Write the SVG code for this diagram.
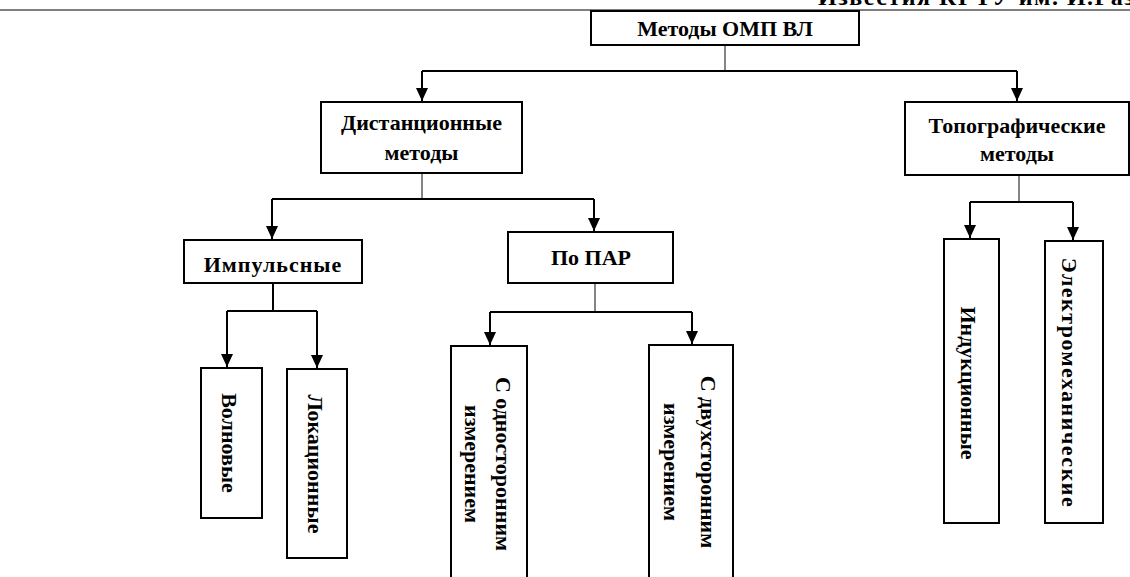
<svg xmlns="http://www.w3.org/2000/svg" width="1130" height="577" viewBox="0 0 1130 577">
<style>
.box{fill:#fff;stroke:#000;stroke-width:2}
.t{font-family:"Liberation Serif","Times New Roman",serif;font-weight:bold;font-size:22px;fill:#000;text-anchor:middle}
.c{fill:none;stroke:#000;stroke-width:2}
.s{fill:none;stroke:#333;stroke-width:1.2}
</style>
<defs>
<marker id="ah" markerUnits="userSpaceOnUse" markerWidth="12" markerHeight="14" refX="6" refY="13" orient="0" viewBox="0 0 12 14">
<path d="M0,0 L12,0 L6,13 Z" fill="#000"/>
</marker>
</defs>
<rect width="1130" height="577" fill="#fff"/>
<g id="header">
<line x1="0" y1="10" x2="1130" y2="10" stroke="#000" stroke-width="1.2"/>
<text x="818" y="5" style="font-family:'Liberation Serif',serif;font-weight:bold;font-size:24px;letter-spacing:1.5px">Известия КГТУ им. И.Раззакова</text>
</g>
<g id="connectors">
<path class="s" d="M725,45 V71"/>
<path class="c" d="M422,71 H1017"/>
<path class="c" d="M422,71 V101" marker-end="url(#ah)"/>
<path class="c" d="M1017,71 V101" marker-end="url(#ah)"/>
<path class="s" d="M422,173 V199"/>
<path class="c" d="M272,199 H594"/>
<path class="c" d="M272,199 V239" marker-end="url(#ah)"/>
<path class="c" d="M594,199 V231" marker-end="url(#ah)"/>
<path class="c" d="M273,283 V311"/>
<path class="c" d="M227,311 H317"/>
<path class="c" d="M227,311 V367" marker-end="url(#ah)"/>
<path class="c" d="M317,311 V368" marker-end="url(#ah)"/>
<path class="s" d="M595,283 V312"/>
<path class="c" d="M490,312 H692"/>
<path class="c" d="M490,312 V345" marker-end="url(#ah)"/>
<path class="c" d="M692,312 V344" marker-end="url(#ah)"/>
<path class="s" d="M1019,175 V202"/>
<path class="c" d="M970,202 H1073"/>
<path class="c" d="M970,202 V238" marker-end="url(#ah)"/>
<path class="c" d="M1073,202 V240" marker-end="url(#ah)"/>
</g>
<g id="root">
<rect class="box" x="591" y="11" width="268" height="34"/>
<text class="t" x="725" y="36">Методы ОМП ВЛ</text>
</g>
<g id="distance">
<rect class="box" x="321" y="102" width="201" height="71"/>
<text class="t" x="421.5" y="130">Дистанционные</text>
<text class="t" x="421.5" y="160">методы</text>
</g>
<g id="topo">
<rect class="box" x="905" y="102" width="224" height="73"/>
<text class="t" x="1017" y="133">Топографические</text>
<text class="t" x="1017" y="161">методы</text>
</g>
<g id="impulse">
<rect class="box" x="184" y="240" width="178" height="43"/>
<text class="t" x="273" y="272" letter-spacing="1">Импульсные</text>
</g>
<g id="par">
<rect class="box" x="508" y="232" width="165" height="51"/>
<text class="t" x="591" y="265">По ПАР</text>
</g>
<g id="wave">
<rect class="box" x="201" y="368" width="61" height="150"/>
<text class="t" transform="translate(222,443) rotate(90)">Волновые</text>
</g>
<g id="location">
<rect class="box" x="287" y="369" width="60" height="189"/>
<text class="t" transform="translate(308,464) rotate(90)">Локационные</text>
</g>
<g id="one-side">
<rect class="box" x="451" y="346" width="76" height="250"/>
<text class="t" transform="translate(496,464) rotate(90)">С односторонним</text>
<text class="t" transform="translate(465,464) rotate(90)">измерением</text>
</g>
<g id="two-side">
<rect class="box" x="649" y="345" width="84" height="250"/>
<text class="t" transform="translate(701,462) rotate(90)">С двухсторонним</text>
<text class="t" transform="translate(664,462) rotate(90)">измерением</text>
</g>
<g id="induction">
<rect class="box" x="944" y="239" width="55" height="284"/>
<text class="t" transform="translate(961,383) rotate(90)">Индукционные</text>
</g>
<g id="electromech">
<rect class="box" x="1045" y="241" width="58" height="282"/>
<text class="t" transform="translate(1062,383) rotate(90)" letter-spacing="1.5">Электромеханические</text>
</g>
</svg>
